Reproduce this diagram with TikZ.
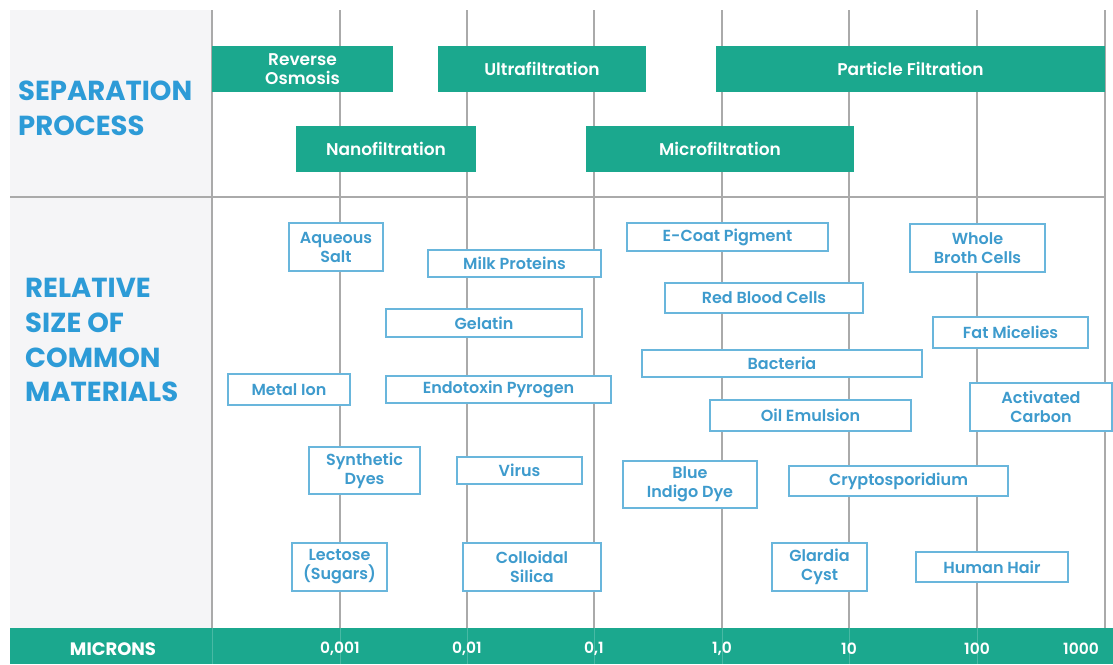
\documentclass[tikz,border=0pt]{standalone}
\usepackage{fontspec}
\setmainfont{Poppins}[BoldFont={Poppins Bold}]
\newfontfamily\psemi{Poppins SemiBold}
\definecolor{tealbar}{RGB}{27,168,142}
\definecolor{titleblue}{RGB}{45,155,215}
\definecolor{boxtext}{RGB}{62,155,205}
\definecolor{boxline}{RGB}{105,182,220}
\definecolor{panelgray}{RGB}{245,245,247}
\definecolor{gridgray}{RGB}{170,170,170}
\tikzset{
  gridline/.style={draw=gridgray, line width=1.2pt},
  procbar/.style={fill=tealbar, text=white, inner sep=0pt, align=center,
    font=\psemi\fontsize{17}{19}\selectfont},
  matbox/.style={draw=boxline, fill=white, line width=1.3pt, text=boxtext, inner sep=0pt,
    align=center, font=\psemi\fontsize{16}{19}\selectfont},
  titletext/.style={text=titleblue, inner sep=0pt, anchor=base west,
    font=\bfseries\fontsize{27.5}{30}\selectfont},
  axistext/.style={text=white, inner sep=0pt, font=\psemi\fontsize{15.5}{18}\selectfont}
}
\begin{document}
\begin{tikzpicture}[x=1pt,y=-1pt]
\useasboundingbox (0,0) rectangle (1113,664);
\fill[white] (0,0) rectangle (1113,664);
% left panel
\fill[panelgray] (10,10) rectangle (212,628);
% grid
\foreach \gx in {212,340,467,594,722,849,977,1105}{
  \draw[gridline] (\gx,10) -- (\gx,628);
}
\draw[gridline] (10,197) -- (1105,197);
% bottom bar
\fill[tealbar] (10,628) rectangle (1113,664);
\foreach \gx in {212,340,467,594,722,849,977}{
  \draw[white, opacity=0.2, line width=1pt] (\gx,628) -- (\gx,664);
}
% titles
\node[titletext] (t1) at (18,100) {SEPARATION};
\node[titletext] (t2) at (18,135) {PROCESS};
\node[titletext] (t3) at (25,297) {RELATIVE};
\node[titletext] (t4) at (25,332) {SIZE OF};
\node[titletext] (t5) at (25,367) {COMMON};
\node[titletext] (t6) at (25,401) {MATERIALS};
% process bars
\node[procbar, minimum width=181pt, minimum height=46pt] (ro) at (302.5,69) {Reverse\\Osmosis};
\node[procbar, minimum width=208pt, minimum height=46pt] (uf) at (542,69) {Ultrafiltration};
\node[procbar, minimum width=389pt, minimum height=46pt] (pf) at (910.5,69) {Particle Filtration};
\node[procbar, minimum width=180pt, minimum height=46pt] (nf) at (386,149) {Nanofiltration};
\node[procbar, minimum width=268pt, minimum height=46pt] (mf) at (720,149) {Microfiltration};
% material boxes
\node[matbox, minimum width=94pt, minimum height=48pt] (aq) at (336,247) {Aqueous\\Salt};
\node[matbox, minimum width=173pt, minimum height=27pt] (milk) at (514.5,263.5) {Milk Proteins};
\node[matbox, minimum width=196pt, minimum height=28pt] (gel) at (484,323) {Gelatin};
\node[matbox, minimum width=122pt, minimum height=31pt] (metal) at (289,389.5) {Metal Ion};
\node[matbox, minimum width=225pt, minimum height=27pt] (endo) at (498.5,389.5) {Endotoxin Pyrogen};
\node[matbox, minimum width=111pt, minimum height=47pt] (syn) at (364.5,470.5) {Synthetic\\Dyes};
\node[matbox, minimum width=125pt, minimum height=27pt] (virus) at (519.5,470.5) {Virus};
\node[matbox, minimum width=95pt, minimum height=48pt] (lect) at (339.5,567) {Lectose\\(Sugars)};
\node[matbox, minimum width=138pt, minimum height=48pt] (coll) at (532,567) {Colloidal\\Silica};
\node[matbox, minimum width=201pt, minimum height=28pt] (ecoat) at (727.5,237) {E-Coat Pigment};
\node[matbox, minimum width=198pt, minimum height=30pt] (rbc) at (764,298) {Red Blood Cells};
\node[matbox, minimum width=280pt, minimum height=27pt] (bact) at (782,363.5) {Bacteria};
\node[matbox, minimum width=201pt, minimum height=31pt] (oil) at (810.5,415.5) {Oil Emulsion};
\node[matbox, minimum width=134pt, minimum height=47pt] (blue) at (690,484.5) {Blue\\Indigo Dye};
\node[matbox, minimum width=219pt, minimum height=30pt] (crypto) at (898.5,481) {Cryptosporidium};
\node[matbox, minimum width=95pt, minimum height=48pt] (glar) at (819.5,567) {Glardia\\Cyst};
\node[matbox, minimum width=135pt, minimum height=48pt] (whole) at (977.5,248) {Whole\\Broth Cells};
\node[matbox, minimum width=155pt, minimum height=31pt] (fat) at (1010.5,332.5) {Fat Micelies};
\node[matbox, minimum width=142pt, minimum height=48pt] (act) at (1041,407) {Activated\\Carbon};
\node[matbox, minimum width=152pt, minimum height=30pt] (hair) at (992,567) {Human Hair};
% axis labels
\node[axistext, font=\bfseries\fontsize{18}{20}\selectfont] (mic) at (113,649) {MICRONS};
\node[axistext] (n1) at (340,649) {0,001};
\node[axistext] (n2) at (467,649) {0,01};
\node[axistext] (n3) at (594,649) {0,1};
\node[axistext] (n4) at (722,649) {1,0};
\node[axistext] (n5) at (849,649) {10};
\node[axistext] (n6) at (977,649) {100};
\node[axistext] (n7) at (1081,649) {1000};
\end{tikzpicture}
\end{document}
